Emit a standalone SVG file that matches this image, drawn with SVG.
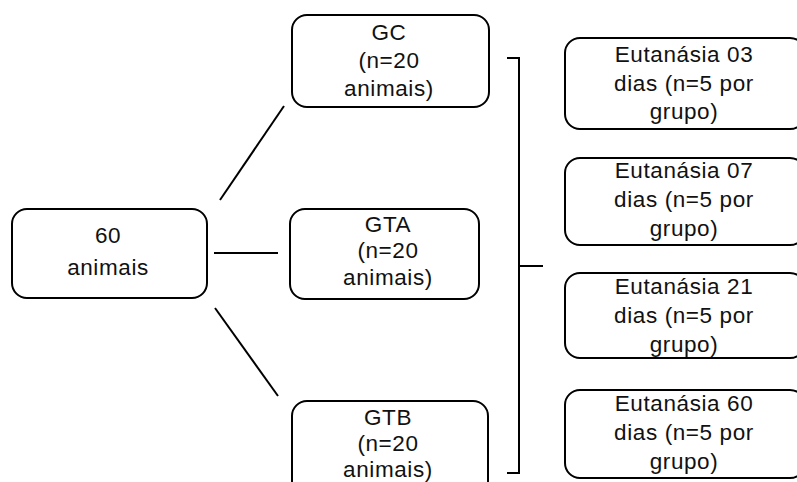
<svg xmlns="http://www.w3.org/2000/svg" width="797" height="482" viewBox="0 0 797 482">
<style>
.box{fill:#fff;stroke:#000;stroke-width:2}
.t{font-family:"Liberation Sans",Arial,sans-serif;font-size:22.5px;letter-spacing:0.6px;fill:#111;text-anchor:middle}
.c{fill:none;stroke:#000;stroke-width:2}
</style>
<rect width="797" height="482" fill="#fff"/>
<g id="connectors">
<line class="c" x1="214" y1="253" x2="278" y2="253"/>
<line class="c" x1="220" y1="200" x2="284" y2="106"/>
<line class="c" x1="215" y1="308" x2="278" y2="396"/>
<polyline class="c" points="507,58 519,58 519,473 507,473"/>
<line class="c" x1="519" y1="266" x2="543" y2="266"/>
</g>
<g id="n60">
<rect class="box" x="12" y="209" width="195" height="89" rx="15"/>
<text class="t" x="108" y="243">60</text>
<text class="t" x="108" y="275">animais</text>
</g>
<g id="gc">
<rect class="box" x="292" y="15" width="197" height="92" rx="15"/>
<text class="t" x="389" y="40">GC</text>
<text class="t" x="389" y="68">(n=20</text>
<text class="t" x="389" y="96">animais)</text>
</g>
<g id="gta">
<rect class="box" x="290" y="209" width="189" height="90" rx="15"/>
<text class="t" x="388" y="232">GTA</text>
<text class="t" x="388" y="258">(n=20</text>
<text class="t" x="388" y="285">animais)</text>
</g>
<g id="gtb">
<rect class="box" x="292" y="401" width="196" height="95" rx="15"/>
<text class="t" x="388" y="425">GTB</text>
<text class="t" x="388" y="451">(n=20</text>
<text class="t" x="388" y="477">animais)</text>
</g>
<g id="e03">
<rect class="box" x="565" y="38" width="240" height="91" rx="15"/>
<text class="t" x="684" y="62">Eutanásia 03</text>
<text class="t" x="684" y="91">dias (n=5 por</text>
<text class="t" x="684" y="119">grupo)</text>
</g>
<g id="e07">
<rect class="box" x="565" y="158" width="240" height="87" rx="15"/>
<text class="t" x="684" y="178">Eutanásia 07</text>
<text class="t" x="684" y="207">dias (n=5 por</text>
<text class="t" x="684" y="236">grupo)</text>
</g>
<g id="e21">
<rect class="box" x="565" y="273" width="240" height="85" rx="15"/>
<text class="t" x="684" y="294">Eutanásia 21</text>
<text class="t" x="684" y="323">dias (n=5 por</text>
<text class="t" x="684" y="352">grupo)</text>
</g>
<g id="e60">
<rect class="box" x="565" y="390" width="240" height="88" rx="15"/>
<text class="t" x="684" y="411">Eutanásia 60</text>
<text class="t" x="684" y="440">dias (n=5 por</text>
<text class="t" x="684" y="469">grupo)</text>
</g>
</svg>
